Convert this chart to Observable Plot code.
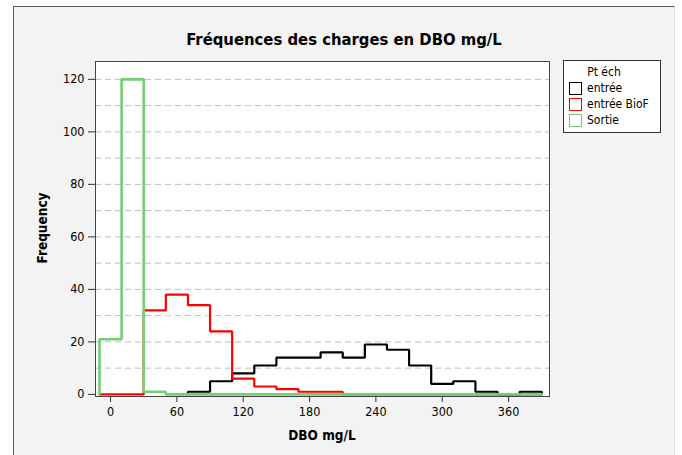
<!DOCTYPE html>
<html><head><meta charset="utf-8">
<script src="https://cdn.jsdelivr.net/npm/d3@7"></script>
<script src="https://cdn.jsdelivr.net/npm/@observablehq/plot@0.6"></script>
<style>
body{margin:0;background:#fff;}
#wrap{position:relative;width:682px;height:455px;overflow:hidden;font-family:"DejaVu Sans Condensed","DejaVu Sans",sans-serif;color:#000;}
#panel{position:absolute;left:13px;top:6px;width:660px;height:470px;background:#f3f3f3;border-left:1px solid #5a5a5a;border-top:1px solid #5a5a5a;border-right:1px solid #dedede;}
#chart{position:absolute;left:0;top:0;}
#title{position:absolute;left:14px;width:660px;top:30px;text-align:center;font-weight:bold;font-size:16.5px;line-height:20px;}
#xlabel{position:absolute;left:222px;width:200px;top:427px;text-align:center;font-weight:bold;font-size:13.5px;line-height:16px;}
#ylabel{position:absolute;left:42px;top:228px;transform:translate(-50%,-50%) rotate(-90deg);font-weight:bold;font-size:13.5px;white-space:nowrap;}
#legend{position:absolute;left:563px;top:60px;width:96px;height:71px;border:1px solid #333;background:#fff;font-size:12px;}
#legend .hd{position:absolute;left:0;width:80px;top:4px;text-align:center;}
#legend .row{position:absolute;left:5px;height:13px;line-height:13px;white-space:nowrap;}
#legend .sw{display:inline-block;box-sizing:border-box;width:13px;height:13px;vertical-align:top;margin-right:5px;background:#fff;}
</style></head>
<body>
<div id="wrap">
  <div id="panel"></div>
  <div id="chart"></div>
  <div id="title">Fréquences des charges en DBO mg/L</div>
  <div id="xlabel">DBO mg/L</div>
  <div id="ylabel">Frequency</div>
  <div id="legend"></div>
</div>
<script>
// Bin centres (mg/L), bin width 20
const binCenters = [0,20,40,60,80,100,120,140,160,180,200,220,240,260,280,300,320,340,360,380];
const binWidth = 20;
const entree     = [0,0,0,0,1,5,8,11,14,14,16,14,19,17,11,4,5,1,0,1];
const entreeBioF = [0,0,32,38,34,24,6,3,2,1,1,0,0,0,0,0,0,0,0,0];
const sortie     = [21,120,1,0,0,0,0,0,0,0,0,0,0,0,0,0,0,0,0,0];
const seriesNames = ["entrée","entrée BioF","Sortie"];
const seriesColors = ["#000000","#ff0000","#72cf72"];
const xTicks = [0,60,120,180,240,300,360];
const yTicks = [0,20,40,60,80,100,120];
const yGrid = [10,20,30,40,50,60,70,80,90,100,110,120];

function steps(values, name, trimLeading){
  let first = 0;
  if (trimLeading) { while (first < values.length && values[first] === 0) first++; }
  const pts = [{x: binCenters[first]-binWidth/2, y: 0, s: name}];
  for (let i = first; i < values.length; i++) pts.push({x: binCenters[i]-binWidth/2, y: values[i], s: name});
  const end = binCenters[binCenters.length-1]+binWidth/2;
  pts.push({x: end, y: values[values.length-1], s: name});
  pts.push({x: end, y: 0, s: name});
  return pts;
}
const allSeries = [entree, entreeBioF, sortie];

const chart = Plot.plot({
  width: 682, height: 455,
  marginLeft: 95, marginRight: 133, marginTop: 61, marginBottom: 59,
  style: {background: "transparent", fontFamily: '"DejaVu Sans Condensed","DejaVu Sans",sans-serif', fontSize: "12.5px", color: "#000"},
  x: {domain: [-13.6, 397]},
  y: {domain: [-0.8, 126.8]},
  marks: [
    Plot.frame({fill: "white", stroke: null}),
    Plot.gridY(yGrid, {stroke: "#bdbdbd", strokeOpacity: 1, strokeDasharray: "6,4"}),
    ...allSeries.map((vals, k) => Plot.line(steps(vals, seriesNames[k], k === 0), {
      x: "x", y: "y", curve: "step-after",
      stroke: seriesColors[k], strokeWidth: k === 2 ? 2.6 : 2.2, strokeLinejoin: "miter"
    })),
    Plot.axisX({ticks: xTicks, tickSize: 6, tickPadding: 5, label: null, stroke: "#333"}),
    Plot.axisY({ticks: yTicks, tickSize: 7, tickPadding: 4, label: null, stroke: "#333"}),
    Plot.frame({stroke: "#444"})
  ]
});
document.getElementById("chart").appendChild(chart);

const lg = document.getElementById("legend");
lg.innerHTML = '<div class="hd">Pt éch</div>' + seriesNames.map((n,i)=>
  '<div class="row" style="top:' + (21+i*16) + 'px"><span class="sw" style="border:1.5px solid ' + seriesColors[i] + '"></span>' + n + '</div>').join("");
</script>
</body></html>
